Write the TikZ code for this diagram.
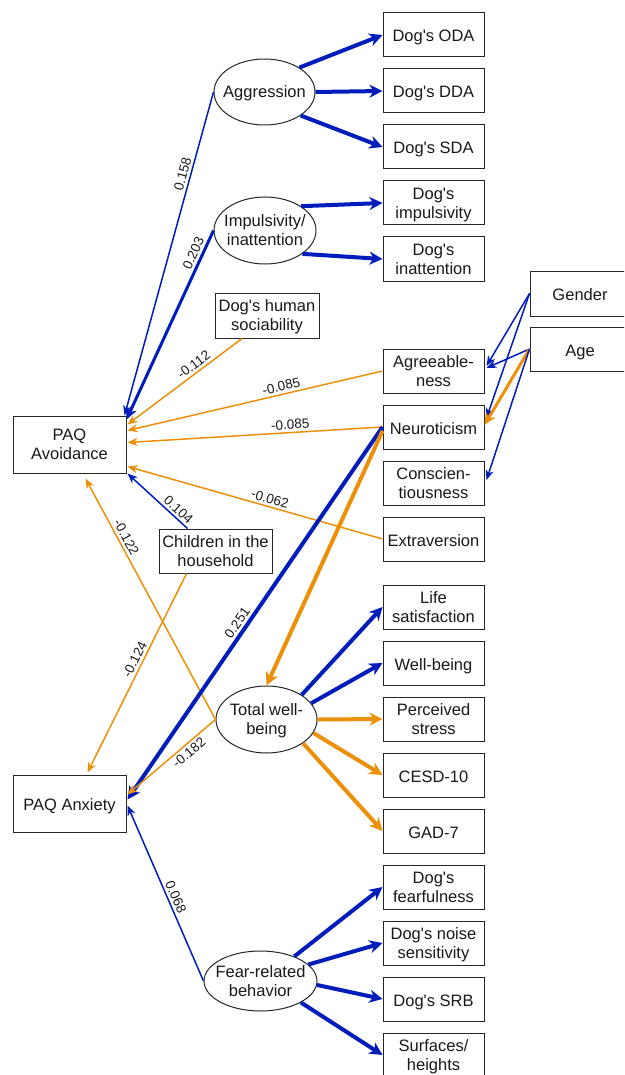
\documentclass[tikz,border=0pt]{standalone}
\usepackage{fontspec}
\setmainfont{Liberation Sans}
\usetikzlibrary{arrows.meta,calc,shapes.geometric}
\definecolor{cblue}{RGB}{0,29,188}
\definecolor{corange}{RGB}{236,144,10}
\newcommand{\ap}{\textquotesingle}
\begin{document}
\begin{tikzpicture}[x=1pt,y=-1pt,
  box/.style={draw=black!85, line width=1pt, fill=white, rectangle, minimum width=101pt, minimum height=44pt, inner sep=0pt, align=center, font=\fontsize{16.5}{19}\selectfont, text=black!90, text depth=0pt},
  one/.style={text height=14pt, text depth=0pt},
  ell/.style={draw=black!85, line width=1pt, fill=white, ellipse, inner sep=-10pt, align=center, font=\fontsize{16.5}{19}\selectfont, text=black!90, text depth=0pt},
  lbl/.style={font=\fontsize{13.5}{14}\selectfont, sloped, inner sep=2.5pt, text=black!90},
  tnb/.style={draw=cblue, line width=1.5pt, -{Stealth[length=10pt,width=8pt,inset=3pt]}},
  tno/.style={draw=corange, line width=1.5pt, -{Stealth[length=10pt,width=8pt,inset=3pt]}},
  mdb/.style={draw=cblue, line width=3pt, -{Stealth[length=12pt,width=11pt,inset=3.5pt]}},
  mdo/.style={draw=corange, line width=3pt, -{Stealth[length=12pt,width=11pt,inset=3.5pt]}},
  tkb/.style={draw=cblue, line width=4pt, -{Stealth[length=13pt,width=13pt,inset=4pt]}},
  tko/.style={draw=corange, line width=4pt, -{Stealth[length=13pt,width=13pt,inset=4pt]}}
]
\useasboundingbox (0,0) rectangle (624,1075);
\clip (0,0) rectangle (624,1075);

% right column
\node[box, one] (oda)   at (433.5,35)  {Dog\ap s ODA};
\node[box, one] (dda)   at (433.5,91)  {Dog\ap s DDA};
\node[box, one] (sda)   at (433.5,147) {Dog\ap s SDA};
\node[box] (dimp)  at (433.5,203) {Dog\ap s\\impulsivity};
\node[box] (dina)  at (433.5,259) {Dog\ap s\\inattention};
\node[box] (agree) at (433.5,371) {Agreeable-\\ness};
\node[box, one] (neur)  at (433.5,427) {Neuroticism};
\node[box] (consc) at (433.5,483) {Conscien-\\tiousness};
\node[box, one] (extra) at (433.5,539) {Extraversion};
\node[box] (life)  at (433.5,607) {Life\\satisfaction};
\node[box, one] (wellb) at (433.5,663) {Well-being};
\node[box] (stress) at (433.5,719) {Perceived\\stress};
\node[box, one] (cesd)  at (433.5,775) {CESD-10};
\node[box, one] (gad)   at (433.5,831) {GAD-7};
\node[box] (dfear) at (433.5,887) {Dog\ap s\\fearfulness};
\node[box] (noise) at (433.5,943) {Dog\ap s noise\\sensitivity};
\node[box, one] (srb)   at (433.5,999) {Dog\ap s SRB};
\node[box] (surf)  at (433.5,1055) {Surfaces/\\heights};

\node[box, one, minimum width=100pt, minimum height=45pt] (gender) at (580,293.5) {Gender};
\node[box, one, minimum width=100pt] (age) at (580,349) {Age};

% latent
\node[ell, minimum width=101pt, minimum height=66pt] (agg) at (264.5,92) {Aggression};
\node[ell, minimum width=102pt, minimum height=67pt] (imp) at (265,230.5) {Impulsivity/\\inattention};
\node[ell, minimum width=101pt, minimum height=67pt] (twb) at (266.5,719.5) {Total well-\\being};
\node[ell, minimum width=113pt, minimum height=60pt] (fear) at (260.5,981) {Fear-related\\behavior};

% middle boxes
\node[box, minimum width=104pt, minimum height=45pt] (soc) at (267,315.5) {Dog\ap s human\\sociability};
\node[box, minimum width=113pt, minimum height=44pt] (child) at (215.5,551) {Children in the\\household};

% left
\node[box, minimum width=113pt, minimum height=57pt] (avoid) at (69.5,444.5) {PAQ\\Avoidance};
\node[box, one, minimum width=113pt, minimum height=57pt] (anx) at (69.5,803.5) {PAQ Anxiety};

% indicators
\draw[tkb] (agg.35) -- (oda.west);
\draw[tkb] (agg.east) -- (dda.west);
\draw[tkb] (agg.-33) -- (sda.west);
\draw[tkb] (imp.34) -- (dimp.west);
\draw[tkb] (imp.-32) -- (dina.west);
\draw[tkb] (twb.35) -- (life.west);
\draw[tkb] (twb.20) -- (wellb.west);
\draw[tko] (twb.east) -- (stress.west);
\draw[tko] (twb.-16) -- (cesd.west);
\draw[tko] (twb.-33) -- (gad.west);
\draw[tkb] (fear.36) -- (dfear.west);
\draw[tkb] (fear.19) -- (noise.west);
\draw[tkb] (fear.-4) -- (srb.west);
\draw[tkb] (fear.-28) -- (surf.west);

% gender / age
\draw[tnb] (gender.west) -- ($(agree.east)+(2,-5)$);
\draw[tnb] (gender.west) -- ($(neur.east)+(2,-9)$);
\draw[tnb] (age.west) -- ($(agree.east)+(2,-3)$);
\draw[mdo] (age.west) -- ($(neur.east)+(0,-2)$);
\draw[tnb] (age.west) -- ($(consc.east)+(2,-3)$);

% paths to PAQ Avoidance
\draw[tnb] (agg.west) -- node[lbl, above, pos=0.26]{0.158} ($(avoid.north east)+(-2,0)$);
\draw[mdb] (imp.west) -- node[lbl, above, pos=0.14]{0.203} ($(avoid.north east)+(0,4)$);
\draw[tno] ($(soc.south)+(-25,0)$) -- node[lbl, above, pos=0.38]{-0.112} ($(avoid.north east)+(1,9)$);
\draw[tno] (agree.west) -- node[lbl, above, pos=0.39]{-0.085} ($(avoid.east)+(1,-14)$);
\draw[tno] (neur.west) -- node[lbl, above, pos=0.36]{-0.085} ($(avoid.east)+(1,-2)$);
\draw[tno] (extra.west) -- node[lbl, above, pos=0.45]{-0.062} ($(avoid.east)+(1,22)$);
\draw[tnb] ($(child.north)+(-28,0)$) -- node[lbl, above, pos=0.24]{0.104} ($(avoid.south east)+(1,0)$);
\draw[tno] (twb.west) -- node[lbl, above, pos=0.74]{-0.122} ($(avoid.south)+(16,5)$);

% paths to PAQ Anxiety
\draw[tno] ($(child.south)+(-29,0)$) -- node[lbl, above, pos=0.45]{-0.124} ($(anx.north)+(18,-2)$);
\draw[tkb] (neur.west) -- node[lbl, above, pos=0.54]{0.251} ($(anx.east)+(1,-4)$);
\draw[tko] ($(neur.west)+(0,4)$) -- (twb.north);
\draw[tno] (twb.west) -- node[lbl, below, pos=0.36]{-0.182} ($(anx.east)+(1,-9)$);
\draw[tnb] (fear.west) -- node[lbl, above, pos=0.46]{0.068} ($(anx.east)+(1,2)$);
\end{tikzpicture}
\end{document}
